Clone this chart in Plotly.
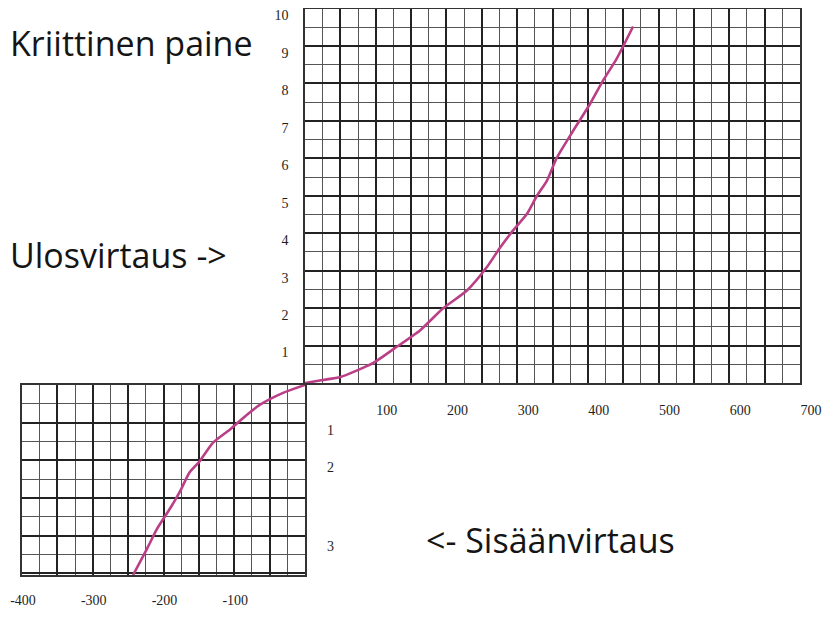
import plotly.graph_objects as go

# ---------------- data ----------------
# outflow branch (upper-right quadrant)
out_x = [0, 25, 50, 96, 127, 163, 195, 229, 257, 276, 294, 314, 328, 342, 356, 379, 403, 421, 441, 464]
out_y = [0, 0.08, 0.16, 0.53, 0.93, 1.41, 1.99, 2.47, 3.09, 3.62, 4.07, 4.52, 5.0, 5.40, 6.01, 6.73, 7.45, 8.06, 8.67, 9.52]
# inflow branch (lower-left quadrant)
in_x = [0, -31, -64, -82, -106, -130, -149, -163, -177, -191, -209, -223, -243]
in_y = [0, -0.21, -0.53, -0.79, -1.18, -1.53, -2.03, -2.32, -2.84, -3.29, -3.82, -4.34, -5.05]

# tick labels
upper_x_vals = [100, 200, 300, 400, 500, 600, 700]
upper_x_text = ["100", "200", "300", "400", "500", "600", "700"]
upper_y_vals = [1, 2, 3, 4, 5, 6, 7, 8, 9, 10]
upper_y_text = ["1", "2", "3", "4", "5", "6", "7", "8", "9", "10"]
lower_x_vals = [-400, -300, -200, -100]
lower_x_text = ["-400", "-300", "-200", "-100"]
lower_y_vals = [-1.2, -2.2, -4.3]
lower_y_text = ["1", "2", "3"]

# annotation texts
txt_pressure = "Kriittinen paine"
txt_out = "Ulosvirtaus ->"
txt_in = "<- Sisäänvirtaus"

# ---------------- layout helpers ----------------
OFF = 8                      # page body margin of the browser
W, H = 835 - OFF, 619 - OFF  # figure size so the page fits the window


def fx(px):
    return min(1.0, max(0.0, (px - OFF) / W))


def fy(py):
    return min(1.0, max(0.0, 1 - (py - OFF) / H))


MAJOR = "#222222"
MINOR = "#555555"
FRAME = "#333333"
CURVE = "#bb3f86"
TICKFONT = dict(family="Liberation Serif", size=14, color="#1e1e1e")


def grid_ticks(lo, hi, step, labelled, labels):
    vals, texts = [], []
    v = lo
    while v <= hi + 1e-9:
        vals.append(v)
        hit = [t for lv, t in zip(labelled, labels) if abs(lv - v) < 1e-9]
        texts.append(hit[0] if hit else "")
        v += step
    return vals, texts


ux_vals, ux_text = grid_ticks(50, 700, 50, upper_x_vals, upper_x_text)
lx_vals, lx_text = grid_ticks(-400, -50, 50, lower_x_vals, lower_x_text)

fig = go.Figure()

fig.add_trace(go.Scatter(x=out_x, y=out_y, mode="lines", xaxis="x", yaxis="y",
                         line=dict(color=CURVE, width=2.6, shape="spline", smoothing=0.6),
                         hoverinfo="skip", showlegend=False))
fig.add_trace(go.Scatter(x=in_x, y=in_y, mode="lines", xaxis="x2", yaxis="y2",
                         line=dict(color=CURVE, width=2.6, shape="spline", smoothing=0.6),
                         hoverinfo="skip", showlegend=False))

common_axis = dict(showline=True, mirror=True, linecolor=FRAME, linewidth=1.5,
                   zeroline=False, ticks="", tickfont=TICKFONT, fixedrange=True,
                   automargin=False, layer="above traces", ticklabeloverflow="allow",
                   showgrid=True, gridcolor=MAJOR, gridwidth=1.7)

fig.update_layout(
    width=W, height=H,
    margin=dict(l=0, r=0, t=0, b=0, autoexpand=False),
    paper_bgcolor="white", plot_bgcolor="white",
    showlegend=False,
    xaxis=dict(common_axis, domain=[fx(305), fx(800)], range=[0, 700], anchor="y",
               tickmode="array", tickvals=ux_vals, ticktext=ux_text,
               ticklabelstandoff=13, ticklabelshift=11,
               minor=dict(tickmode="linear", tick0=0, dtick=25, showgrid=True,
                          gridcolor=MINOR, gridwidth=1)),
    yaxis=dict(common_axis, domain=[fy(383), fy(8.5)], range=[0, 10], anchor="x",
               tickmode="array", tickvals=upper_y_vals, ticktext=upper_y_text,
               ticklabelstandoff=12, ticklabelshift=7,
               minor=dict(tickmode="linear", tick0=0, dtick=0.5, showgrid=True,
                          gridcolor=MINOR, gridwidth=1)),
    xaxis2=dict(common_axis, domain=[fx(22), fx(305)], range=[-400, 0], anchor="y2",
                tickmode="array", tickvals=lx_vals, ticktext=lx_text,
                ticklabelstandoff=11, ticklabelshift=1,
                minor=dict(tickmode="linear", tick0=0, dtick=25, showgrid=True,
                           gridcolor=MINOR, gridwidth=1)),
    yaxis2=dict(common_axis, domain=[fy(575), fy(385)], range=[-5.05, 0], anchor="x2",
                tickmode="linear", tick0=0, dtick=1, showticklabels=False,
                minor=dict(tickmode="linear", tick0=0, dtick=0.5, showgrid=True,
                           gridcolor=MINOR, gridwidth=1)),
)

# lower-grid scale labels (right side), placed on the lower y scale
for v, t in zip(lower_y_vals, lower_y_text):
    fig.add_annotation(text=t, xref="x2 domain", yref="y2", x=1, y=v,
                       xanchor="left", yanchor="middle", xshift=20,
                       showarrow=False, font=TICKFONT)

ann_font = dict(family="Open Sans", size=34, color="#151515")
fig.add_annotation(text=txt_pressure, xref="paper", yref="paper",
                   x=0, y=fy(43), xanchor="left", yanchor="middle",
                   showarrow=False, font=ann_font)
fig.add_annotation(text=txt_out, xref="paper", yref="paper",
                   x=0, y=fy(255), xanchor="left", yanchor="middle",
                   showarrow=False, font=ann_font)
fig.add_annotation(text=txt_in, xref="paper", yref="paper",
                   x=fx(424), y=fy(540), xanchor="left", yanchor="middle",
                   showarrow=False, font=ann_font)

fig.write_html("out.html")
